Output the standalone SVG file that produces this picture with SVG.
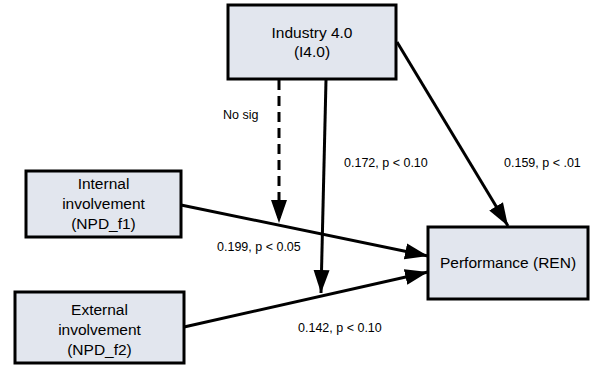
<svg xmlns="http://www.w3.org/2000/svg" width="592" height="366" viewBox="0 0 592 366">
<style>
.box{fill:#e2e6ee;stroke:#000;stroke-width:3}
.nt{font-family:"Liberation Sans",Arial,sans-serif;font-size:15.5px;fill:#000;text-anchor:middle}
.lb{font-family:"Liberation Sans",Arial,sans-serif;font-size:12.5px;fill:#000}
.ln{stroke:#000;stroke-width:3;fill:none}
</style>
<defs>
<marker id="ah" markerUnits="userSpaceOnUse" markerWidth="24" markerHeight="18" viewBox="0 0 24 18" refX="23" refY="9" orient="auto">
<path d="M0,1 L23,9 L0,17 Z" fill="#000"/>
</marker>
</defs>
<rect width="592" height="366" fill="#fff"/>
<g id="connectors">
<line class="ln" x1="279" y1="80" x2="279" y2="223" stroke-dasharray="10,6" marker-end="url(#ah)"/>
<line class="ln" x1="326" y1="80" x2="321" y2="293" marker-end="url(#ah)"/>
<line class="ln" x1="397" y1="42" x2="508" y2="226" marker-end="url(#ah)"/>
<line class="ln" x1="181" y1="205" x2="428" y2="256" marker-end="url(#ah)"/>
<line class="ln" x1="184" y1="327" x2="428" y2="272" marker-end="url(#ah)"/>
</g>
<g id="labels">
<text class="lb" x="223" y="119">No sig</text>
<text class="lb" x="344" y="167">0.172, p &lt; 0.10</text>
<text class="lb" x="504" y="167">0.159, p &lt; .01</text>
<text class="lb" x="217" y="251">0.199, p &lt; 0.05</text>
<text class="lb" x="298" y="332">0.142, p &lt; 0.10</text>
</g>
<g id="industry">
<rect class="box" x="228" y="5" width="168" height="74"/>
<text class="nt" x="312" y="38">Industry 4.0</text>
<text class="nt" x="312" y="57">(I4.0)</text>
</g>
<g id="internal">
<rect class="box" x="26" y="171" width="155" height="66"/>
<text class="nt" x="103.5" y="189">Internal</text>
<text class="nt" x="103.5" y="209">involvement</text>
<text class="nt" x="103.5" y="229">(NPD_f1)</text>
</g>
<g id="external">
<rect class="box" x="15" y="292" width="169" height="71"/>
<text class="nt" x="99.5" y="315">External</text>
<text class="nt" x="99.5" y="335">involvement</text>
<text class="nt" x="99.5" y="355">(NPD_f2)</text>
</g>
<g id="performance">
<rect class="box" x="428" y="227" width="160" height="72"/>
<text class="nt" x="508" y="268">Performance (REN)</text>
</g>
</svg>
